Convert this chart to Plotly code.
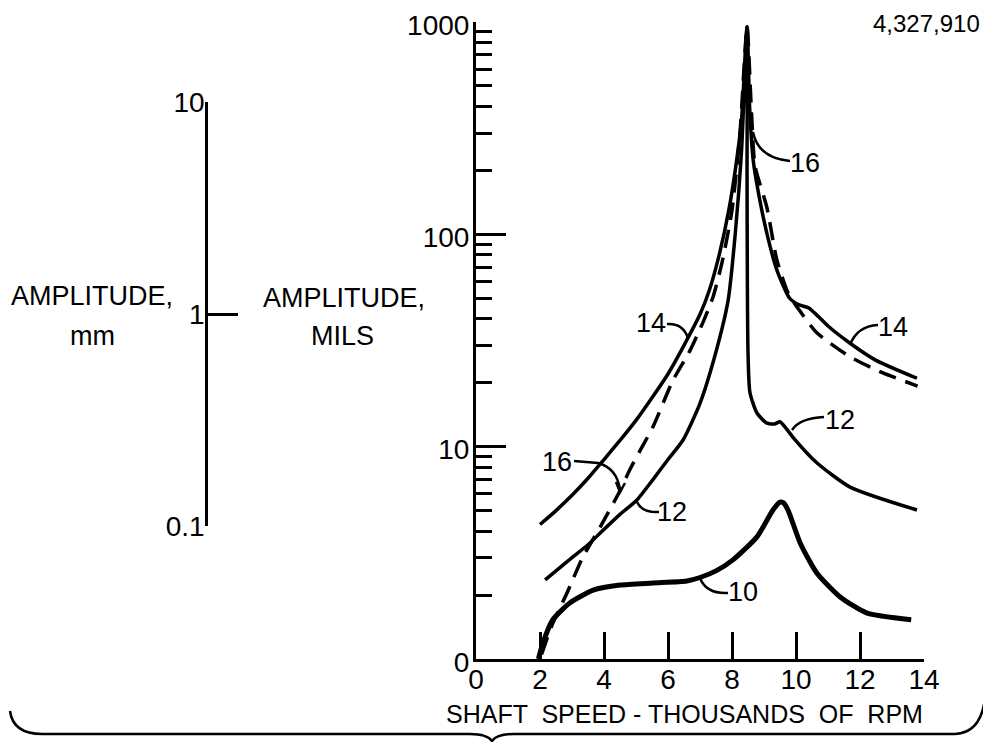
import plotly.graph_objects as go

# page is 991x742; the html body keeps an 8px margin, so the figure is 983x734
OFF = 8
W, H = 991 - OFF, 742 - OFF

# ---------------- data ----------------
speed_10 = [1.95, 2.1, 2.4, 2.94, 3.66, 4.5, 5.53, 6.59, 7.0, 7.5, 8.03, 8.78, 9.28, 9.5, 9.6, 9.75,
            10.13, 10.65, 11.38, 12.2, 13.6]
amp_10 = [1.0, 1.2, 1.53, 1.84, 2.11, 2.23, 2.28, 2.33, 2.42, 2.6, 2.93, 3.76, 5.03, 5.48, 5.45, 5.03,
          3.52, 2.54, 1.96, 1.65, 1.53]

speed_12 = [2.16, 2.5, 3.0, 3.5, 3.88, 4.5, 5.03, 5.53, 6.0, 6.47, 7.0, 7.5, 7.88, 8.1, 8.3, 8.47,
            8.47, 8.48, 8.5, 8.56, 8.78, 9.09, 9.34, 9.5, 9.69, 9.9, 10.65, 11.69, 13.78]
amp_12 = [2.36, 2.6, 3.0, 3.45, 3.92, 4.8, 5.61, 7.0, 8.7, 10.75, 16, 28, 49, 100, 250, 950,
          200, 60, 28, 18, 14.4, 12.9, 12.8, 13.1, 12.2, 11.1, 8.4, 6.45, 5.03]

speed_14 = [2.0, 2.5, 3.0, 3.5, 4.0, 4.5, 5.0, 5.5, 6.0, 6.5, 7.0, 7.3, 7.6, 7.9, 8.1, 8.3, 8.47,
            8.55, 8.66, 8.85, 9.09, 9.4, 9.8, 10.1, 10.4, 10.7, 11.0, 11.69, 12.5, 13.78]
amp_14 = [4.3, 5.0, 5.9, 7.1, 8.7, 10.7, 13.3, 17, 22, 30, 42, 55, 80, 130, 200, 350, 950,
          400, 225, 150, 101, 68, 50, 46.5, 45, 41, 37, 30.7, 25.5, 21]

speed_16 = [2.05, 2.38, 2.84, 3.34, 3.88, 4.5, 4.81, 5.13, 5.53, 6.16, 6.69, 7.09, 7.41, 7.7, 8.0,
            8.25, 8.47, 8.6, 8.72, 9.09, 9.4, 9.75, 10.1, 10.65, 11.69, 12.7, 13.8]
amp_16 = [1.05, 1.45, 2.04, 3.02, 4.18, 6.2, 7.8, 9.6, 12.4, 20.6, 28.4, 38.4, 50.8, 75, 130,
          300, 950, 400, 210, 134, 76, 53, 44, 34.4, 26.5, 22.3, 19.3]

x_ticks = [0, 2, 4, 6, 8, 10, 12, 14]
y_major = [1, 10, 100, 1000]
y_major_text = ["0", "10", "100", "1000"]
y_minor = [2, 3, 4, 5, 6, 7, 8, 9, 20, 30, 40, 50, 60, 70, 80, 90,
           200, 300, 400, 500, 600, 700, 800, 900]
mm_ticks = [0.1, 1, 10]
mm_text = ["0.1", "1", "10"]

FONT = "Liberation Sans"


def px_x(x):
    return (x - OFF) / W


def px_y(y):
    return 1 - (y - OFF) / H


def P(x, y):
    """page pixel -> paper coordinates (margins are zero)"""
    return px_x(x), px_y(y)


def path(cmds):
    out = []
    for c in cmds:
        if isinstance(c, str):
            out.append(c)
        else:
            a, b = P(*c)
            out.append(f"{a:.5f},{b:.5f}")
    return " ".join(out)


fig = go.Figure()

fig.add_trace(go.Scatter(x=speed_14, y=amp_14, mode="lines",
                         line=dict(color="black", width=3.5, shape="spline", smoothing=0.6),
                         hoverinfo="skip"))
fig.add_trace(go.Scatter(x=speed_16, y=amp_16, mode="lines",
                         line=dict(color="black", width=3.5, dash="18px,10px", shape="spline",
                                   smoothing=0.6),
                         hoverinfo="skip"))
fig.add_trace(go.Scatter(x=speed_12, y=amp_12, mode="lines",
                         line=dict(color="black", width=3.5, shape="spline", smoothing=0.6),
                         hoverinfo="skip"))
fig.add_trace(go.Scatter(x=speed_10, y=amp_10, mode="lines",
                         line=dict(color="black", width=5, shape="spline", smoothing=0.6),
                         hoverinfo="skip"))
# invisible trace that carries the mm scale
fig.add_trace(go.Scatter(x=[0, 0, 0], y=mm_ticks, xaxis="x2", yaxis="y2", mode="markers",
                         marker=dict(size=0.1, opacity=0), hoverinfo="skip"))

x_dom = [px_x(476), px_x(924)]
y_dom = [px_y(659), px_y(22)]

fig.update_layout(
    width=W, height=H,
    margin=dict(l=0, r=0, t=0, b=0, pad=0, autoexpand=False),
    paper_bgcolor="white", plot_bgcolor="white",
    showlegend=False,
    font=dict(family=FONT, color="black", size=26),
    xaxis=dict(domain=x_dom, range=[0, 14], tickvals=x_ticks, ticks="inside", ticklen=27,
               tickwidth=2.5, tickcolor="black", showline=True, linewidth=3, linecolor="black",
               showgrid=False, zeroline=False, tickfont=dict(size=28), anchor="y",
               ticklabelstandoff=-7, ticklabeloverflow="allow", automargin=False),
    yaxis=dict(domain=y_dom, type="log", range=[0, 3], tickvals=y_major, ticktext=y_major_text,
               ticks="inside", ticklen=30, tickwidth=3, tickcolor="black",
               showline=True, linewidth=3, linecolor="black", showgrid=False, zeroline=False,
               tickfont=dict(size=28), ticklabelstandoff=-2, ticklabelshift=3,
               ticklabeloverflow="allow", anchor="x", automargin=False,
               minor=dict(tickmode="array", tickvals=y_minor, ticks="inside", ticklen=16,
                          tickwidth=3, tickcolor="black", showgrid=False)),
    xaxis2=dict(domain=[px_x(208), px_x(260)], range=[0, 1], visible=False, anchor="y2",
                automargin=False),
    yaxis2=dict(domain=[px_y(526), px_y(102)], type="log", range=[-1, 1], anchor="x2",
                side="left", tickvals=mm_ticks, ticktext=mm_text, ticks="inside", ticklen=30,
                tickwidth=2.5, tickcolor="black", showline=True, linewidth=2.5,
                linecolor="black", showgrid=False, zeroline=False, tickfont=dict(size=28),
                ticklabelstandoff=-5, ticklabeloverflow="allow", automargin=False),
)

ann = []


def text(t, x, y, size=27, xanchor="center", yanchor="middle"):
    a, b = P(x, y)
    ann.append(dict(text=t, x=a, y=b, xref="paper", yref="paper", showarrow=False,
                    xanchor=xanchor, yanchor=yanchor, font=dict(size=size, family=FONT,
                                                                color="black")))


# axis titles
text("AMPLITUDE,", 92, 296, 27)
text("mm", 92, 336, 27)
text("AMPLITUDE,", 344, 298, 27)
text("MILS", 342, 336, 27)
text("SHAFT  SPEED - THOUSANDS  OF  RPM", 684, 714, 25)
# curve labels
text("10", 743, 592, 27)
text("12", 840, 420, 27)
text("14", 893, 327, 27)
text("16", 805, 163, 27)
text("14", 651, 323, 27)
text("16", 557, 462, 27)
text("12", 672, 512, 27)
# patent number at the top edge of the page
text("4,327,910", 982, 24, 24, xanchor="right")

fig.update_layout(annotations=ann)

leader = dict(color="black", width=2.5)
shapes = [
    # leaders
    dict(path=path(["M", (700, 578), "Q", (706, 594), (728, 593)])),
    dict(path=path(["M", (792, 430), "Q", (800, 418), (824, 417)])),
    dict(path=path(["M", (850, 345), "Q", (857, 326), (878, 325)])),
    dict(path=path(["M", (753, 132), "Q", (758, 158), (790, 161)])),
    dict(path=path(["M", (667, 324), "Q", (683, 323), (688, 338)])),
    dict(path=path(["M", (574, 461), "L", (598, 463), "Q", (617, 468), (620, 490)])),
    dict(path=path(["M", (616, 482), "L", (620, 492), "L", (625, 483)])),
    dict(path=path(["M", (637, 502), "Q", (642, 513), (659, 512)])),
    # brace under the figure
    dict(path=path(["M", (10, 711), "Q", (13, 734), (42, 734), "L", (470, 734), "Q", (487, 734),
                    (492, 741), "Q", (497, 734), (514, 734), "L", (955, 734), "Q", (981, 733),
                    (985, 698)])),
]
for s in shapes:
    s.update(type="path", xref="paper", yref="paper", line=leader)
fig.update_layout(shapes=shapes)

fig.write_html("out.html")
